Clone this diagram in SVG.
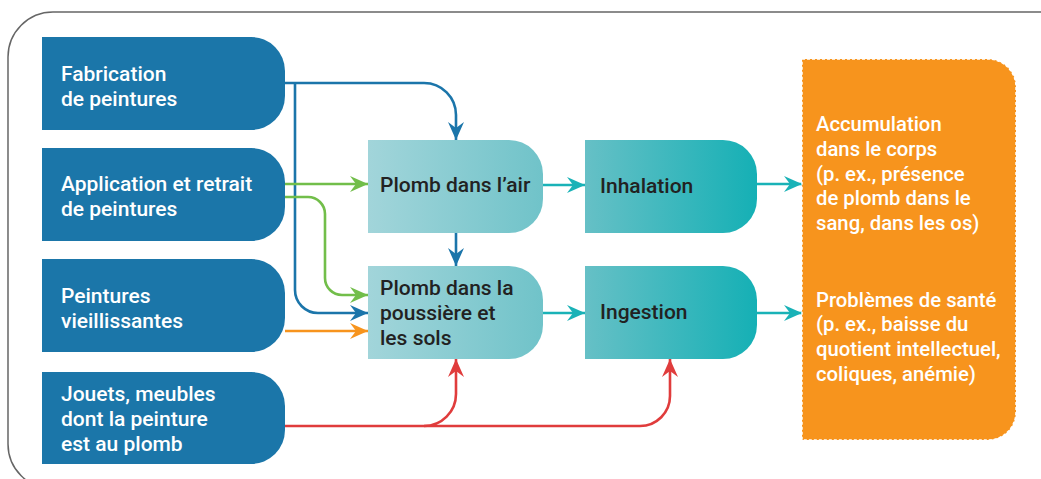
<svg xmlns="http://www.w3.org/2000/svg" width="1041" height="479" viewBox="0 0 1041 479">
  <style>
    .src { fill: #1b76a9; }
    .srct { fill: #ffffff; font-family: Roboto, "Liberation Sans", sans-serif; font-size: 21px; font-weight: 500; }
    .midt { fill: #222222; font-family: Roboto, "Liberation Sans", sans-serif; font-size: 21px; font-weight: 500; }
    .outt { fill: #ffffff; font-family: Roboto, "Liberation Sans", sans-serif; font-size: 20.3px; font-weight: 500; }
    .ln { fill: none; stroke-width: 2.6; }
    .blue { stroke: #1b75aa; }
    .green { stroke: #72be4a; }
    .orange { stroke: #f7941d; }
    .red { stroke: #e03c3c; }
    .teal { stroke: #19b2b7; }
  </style>
  <defs>
    <linearGradient id="gMid" x1="0" y1="0" x2="1" y2="0">
      <stop offset="0" stop-color="#a2d5da"/>
      <stop offset="1" stop-color="#70c3c9"/>
    </linearGradient>
    <linearGradient id="gExp" x1="0" y1="0" x2="1" y2="0">
      <stop offset="0" stop-color="#66c0c6"/>
      <stop offset="1" stop-color="#15b0b5"/>
    </linearGradient>
    <marker id="aBlue" viewBox="0 0 18 16" refX="18" refY="8" markerWidth="18" markerHeight="16" markerUnits="userSpaceOnUse" orient="auto"><path d="M0,0 L18,8 L0,16 L6,8 Z" fill="#1b75aa"/></marker>
    <marker id="aGreen" viewBox="0 0 18 16" refX="18" refY="8" markerWidth="18" markerHeight="16" markerUnits="userSpaceOnUse" orient="auto"><path d="M0,0 L18,8 L0,16 L6,8 Z" fill="#72be4a"/></marker>
    <marker id="aOrange" viewBox="0 0 18 16" refX="18" refY="8" markerWidth="18" markerHeight="16" markerUnits="userSpaceOnUse" orient="auto"><path d="M0,0 L18,8 L0,16 L6,8 Z" fill="#f7941d"/></marker>
    <marker id="aRed" viewBox="0 0 18 16" refX="18" refY="8" markerWidth="18" markerHeight="16" markerUnits="userSpaceOnUse" orient="auto"><path d="M0,0 L18,8 L0,16 L6,8 Z" fill="#e03c3c"/></marker>
    <marker id="aTeal" viewBox="0 0 18 16" refX="18" refY="8" markerWidth="18" markerHeight="16" markerUnits="userSpaceOnUse" orient="auto"><path d="M0,0 L18,8 L0,16 L6,8 Z" fill="#19b2b7"/></marker>
  </defs>

  <rect id="frame" x="8" y="12" width="1090" height="477" rx="45" ry="45" fill="none" stroke="#666666" stroke-width="1.5"/>

  <g id="connectors">
    <path class="ln blue" d="M285,83 H424 A32,32 0 0 1 456,115 V140" marker-end="url(#aBlue)"/>
    <path class="ln blue" d="M295,83 V290 A23,23 0 0 0 318,313 H368" marker-end="url(#aBlue)"/>
    <path class="ln green" d="M285,184 H368" marker-end="url(#aGreen)"/>
    <path class="ln green" d="M285,197 H308 A17,17 0 0 1 325,214 V278 A17,17 0 0 0 342,295 H368" marker-end="url(#aGreen)"/>
    <path class="ln orange" d="M285,331 H368" marker-end="url(#aOrange)"/>
    <path class="ln blue" d="M456,233 V266" marker-end="url(#aBlue)"/>
    <path class="ln teal" d="M543,185 H585" marker-end="url(#aTeal)"/>
    <path class="ln teal" d="M543,313 H585" marker-end="url(#aTeal)"/>
    <path class="ln teal" d="M757,184 H802" marker-end="url(#aTeal)"/>
    <path class="ln teal" d="M757,313 H802" marker-end="url(#aTeal)"/>
    <path class="ln red" d="M285,426 H640 A30,30 0 0 0 670,396 V359" marker-end="url(#aRed)"/>
    <path class="ln red" d="M424,426 A32,32 0 0 0 456,394 V359" marker-end="url(#aRed)"/>
  </g>

  <g id="fabrication">
    <path class="src" d="M42,37 H251 A34,34 0 0 1 285,71 V96 A34,34 0 0 1 251,130 H42 Z"/>
    <text class="srct" x="61" y="81">Fabrication</text>
    <text class="srct" x="61" y="106">de peintures</text>
  </g>
  <g id="application">
    <path class="src" d="M42,148 H251 A34,34 0 0 1 285,182 V207 A34,34 0 0 1 251,241 H42 Z"/>
    <text class="srct" x="61" y="191">Application et retrait</text>
    <text class="srct" x="61" y="216">de peintures</text>
  </g>
  <g id="vieillissantes">
    <path class="src" d="M42,259 H251 A34,34 0 0 1 285,293 V318 A34,34 0 0 1 251,352 H42 Z"/>
    <text class="srct" x="61" y="303">Peintures</text>
    <text class="srct" x="61" y="328">vieillissantes</text>
  </g>
  <g id="jouets">
    <path class="src" d="M42,372 H251 A34,34 0 0 1 285,406 V430 A34,34 0 0 1 251,464 H42 Z"/>
    <text class="srct" x="61" y="401">Jouets, meubles</text>
    <text class="srct" x="61" y="426">dont la peinture</text>
    <text class="srct" x="61" y="451">est au plomb</text>
  </g>

  <g id="air">
    <path fill="url(#gMid)" d="M368,140 H509 A34,34 0 0 1 543,174 V199 A34,34 0 0 1 509,233 H368 Z"/>
    <text class="midt" x="380" y="192">Plomb dans l’air</text>
  </g>
  <g id="poussiere">
    <path fill="url(#gMid)" d="M368,266 H509 A34,34 0 0 1 543,300 V325 A34,34 0 0 1 509,359 H368 Z"/>
    <text class="midt" x="380" y="295">Plomb dans la</text>
    <text class="midt" x="380" y="320">poussière et</text>
    <text class="midt" x="380" y="345">les sols</text>
  </g>
  <g id="inhalation">
    <path fill="url(#gExp)" d="M585,140 H723 A34,34 0 0 1 757,174 V199 A34,34 0 0 1 723,233 H585 Z"/>
    <text class="midt" x="600" y="193">Inhalation</text>
  </g>
  <g id="ingestion">
    <path fill="url(#gExp)" d="M585,266 H723 A34,34 0 0 1 757,300 V325 A34,34 0 0 1 723,359 H585 Z"/>
    <text class="midt" x="600" y="319">Ingestion</text>
  </g>

  <g id="effets">
    <path d="M802,59 H988 A28,28 0 0 1 1016,87 V412 A28,28 0 0 1 988,440 H802 Z" fill="#f7941d" stroke="#ffffff" stroke-width="1.5" stroke-dasharray="3 2"/>
    <text class="outt" x="816" y="131">Accumulation</text>
    <text class="outt" x="816" y="156">dans le corps</text>
    <text class="outt" x="816" y="181">(p. ex., présence</text>
    <text class="outt" x="816" y="205">de plomb dans le</text>
    <text class="outt" x="816" y="230">sang, dans les os)</text>
    <text class="outt" x="816" y="307">Problèmes de santé</text>
    <text class="outt" x="816" y="331">(p. ex., baisse du</text>
    <text class="outt" x="816" y="356">quotient intellectuel,</text>
    <text class="outt" x="816" y="381">coliques, anémie)</text>
  </g>
</svg>
